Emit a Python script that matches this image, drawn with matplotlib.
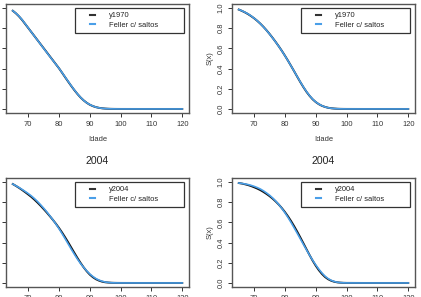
import numpy as np
import matplotlib
matplotlib.use('Agg')
import matplotlib.pyplot as plt
from matplotlib.legend_handler import HandlerLine2D
from matplotlib.lines import Line2D

plt.rcParams['font.family'] = ['Liberation Sans', 'DejaVu Sans']

# idades
idade = [65, 66, 67, 68, 69, 70, 71, 72, 73, 74, 75, 76, 77, 78, 79, 80, 81, 82,
         83, 84, 85, 86, 87, 88, 89, 90, 91, 92, 93, 94, 95, 96, 97, 98, 99, 100,
         105, 110, 115, 120]

# 1970, painel esquerdo
y1970_a = [.973, .948, .918, .883, .843, .803, .763, .723, .683, .643, .603, .563, .523,
           .483, .443, .403, .359, .314, .27, .227, .186, .148, .114, .085, .061, .042,
           .028, .018, .011, .0065, .0037, .002, .001, .0005, .0002, .0001, 0, 0, 0, 0]
feller_a = [.973, .949, .92, .885, .845, .804, .763, .722, .682, .642, .601, .561, .521,
            .482, .442, .403, .36, .316, .272, .229, .188, .149, .115, .085, .061, .043,
            .029, .018, .011, .0065, .0037, .002, .001, .0005, .0002, .0001, 0, 0, 0, 0]

# 1970, painel direito
y1970_b = [.985, .972, .957, .94, .92, .898, .873, .845, .814, .78, .743, .704, .663,
           .62, .575, .527, .477, .425, .372, .318, .265, .215, .169, .129, .095, .068,
           .047, .031, .02, .012, .007, .004, .002, .001, .0005, .0002, 0, 0, 0, 0]
feller_b = [.985, .973, .958, .942, .922, .899, .874, .845, .813, .779, .742, .703, .662,
            .619, .574, .526, .476, .425, .372, .319, .267, .217, .171, .131, .097, .069,
            .048, .032, .02, .012, .007, .004, .002, .001, .0005, .0002, 0, 0, 0, 0]

# 2004, painel esquerdo
y2004_a = [.98, .962, .943, .922, .90, .877, .853, .826, .797, .766, .733, .699, .663,
           .626, .587, .545, .50, .452, .402, .35, .298, .247, .199, .155, .116, .083,
           .057, .037, .023, .013, .007, .004, .002, .001, .0005, .0002, 0, 0, 0, 0]
feller_2004_a = [.98, .963, .946, .927, .907, .886, .863, .837, .808, .776, .742, .706,
                 .667, .627, .584, .538, .489, .438, .386, .334, .284, .236, .193, .155,
                 .12, .089, .064, .043, .028, .017, .009, .005, .002, .001, .0005, .0002,
                 0, 0, 0, 0]

# 2004, painel direito
y2004_b = [.99, .985, .978, .97, .96, .948, .935, .92, .902, .882, .86, .835, .807, .776,
           .741, .702, .659, .612, .561, .507, .45, .392, .333, .275, .22, .17, .126,
           .089, .059, .037, .022, .012, .006, .003, .0013, .0005, 0, 0, 0, 0]
feller_2004_b = [.99, .986, .981, .975, .967, .957, .945, .931, .913, .892, .869, .842,
                 .811, .777, .738, .695, .648, .598, .545, .491, .436, .381, .327, .274,
                 .224, .178, .136, .099, .067, .043, .026, .014, .007, .003, .0013, .0005,
                 0, 0, 0, 0]

paineis = [
    # (esquerda px, topo px, serie, feller, rotulo, titulo)
    (6, 4, y1970_a, feller_a, 'y1970', None),
    (232, 4, y1970_b, feller_b, 'y1970', None),
    (6, 178, y2004_a, feller_2004_a, 'y2004', '2004'),
    (232, 178, y2004_b, feller_2004_b, 'y2004', '2004'),
]

W, H = 421, 297
fs = 5.4
cinza = '#333333'
azul = '#4a9fe8'


class TracoCurto(HandlerLine2D):
    # traço curto no meio da caixa, estilo legenda do R
    def create_artists(self, legend, orig_handle, xdescent, ydescent,
                       width, height, fontsize, trans):
        y = (height - ydescent) / 2.0
        ln = Line2D([width * 0.5, width * 0.72], [y, y])
        self.update_prop(ln, orig_handle, legend)
        ln.set_transform(trans)
        return [ln]


fig = plt.figure(figsize=(W / 100, H / 100), dpi=100)

for i, (x0, y0, s, f, rot, tit) in enumerate(paineis):
    ax = fig.add_axes([x0 / W, (H - y0 - 109) / H, 183 / W, 109 / H])
    ax.plot(idade, s, color='#111111', lw=1.4, label=rot)
    ax.plot(idade, f, color=azul, lw=1.2, label='Feller c/ saltos')
    ax.set_xlim(62.8, 122.2)
    ax.set_ylim(-0.04, 1.04)
    ax.set_xticks([70, 80, 90, 100, 110, 120])
    ax.set_yticks([0, 0.2, 0.4, 0.6, 0.8, 1.0])
    ax.set_yticklabels(['0.0', '0.2', '0.4', '0.6', '0.8', '1.0'],
                       rotation=90, va='center')
    ax.tick_params(length=3, width=0.7, color=cinza, labelsize=fs,
                   labelcolor=cinza, pad=2.5)
    for sp in ax.spines.values():
        sp.set_color('#555555')
        sp.set_linewidth(1.0)
    if i % 2 == 0:
        ax.tick_params(labelleft=False)
    else:
        ax.set_ylabel('S(x)', fontsize=fs, color=cinza, labelpad=3)
    if i < 2:
        ax.set_xlabel('Idade', fontsize=fs, color=cinza, labelpad=6)
    if tit:
        ax.set_title(tit, fontsize=7.6, color='#222222', pad=10)
    hs, ls = ax.get_legend_handles_labels()
    hl = [Line2D([], [], color='#333333', lw=1.5),
          Line2D([], [], color=azul, lw=1.5)]
    leg = ax.legend(hl, ls, loc='upper left', bbox_to_anchor=(0.377, 0.74, 0.598, 0.223),
                    mode='expand', borderaxespad=0, fontsize=fs, handlelength=3,
                    handletextpad=1.0, labelspacing=0.25, borderpad=0.55,
                    fancybox=False, framealpha=1, edgecolor='#333333',
                    handler_map={Line2D: TracoCurto()})
    leg.get_frame().set_linewidth(0.9)
    for t in leg.get_texts():
        t.set_color('#222222')

fig.savefig('out.png', dpi=100)
